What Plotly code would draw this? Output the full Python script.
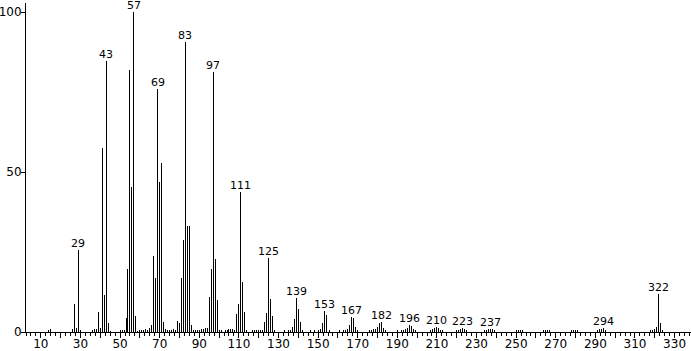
import plotly.graph_objects as go

# m/z values and relative intensities (%)
mz = [14, 15, 26, 27, 28, 29, 30,
      36, 37, 38, 39, 40, 41, 42, 43, 44, 45,
      50, 51, 52, 53, 54, 55, 56, 57, 58, 59,
      60, 61, 62, 63, 64, 65, 66, 67, 68, 69, 70, 71, 72, 73,
      74, 75, 76, 77, 78, 79, 80, 81, 82, 83, 84, 85, 86, 87, 88,
      89, 90, 91, 92, 93, 94, 95, 96, 97, 98, 99, 100, 101,
      103, 104, 105, 106, 107, 108, 109, 110, 111, 112, 113, 114,
      117, 118, 119, 120, 121, 122, 123, 124, 125, 126, 127, 128,
      133, 135, 136, 137, 138, 139, 140, 141, 142,
      146, 148, 150, 151, 152, 153, 154, 155, 156,
      161, 163, 164, 165, 166, 167, 168, 169, 170,
      176, 177, 178, 179, 180, 181, 182, 183, 184,
      190, 192, 193, 194, 195, 196, 197, 198, 199,
      206, 207, 208, 209, 210, 211, 212, 213,
      220, 221, 222, 223, 224, 225,
      234, 235, 236, 237, 238, 239,
      250, 251, 252, 253,
      264, 265, 266, 267,
      278, 279, 280, 281,
      291, 292, 293, 294, 295,
      318, 319, 320, 321, 322, 323, 324]
intensity = [0.7, 0.9, 1.0, 8.7, 1.2, 25.5, 0.6,
             0.5, 0.8, 0.9, 6.2, 1.2, 57.4, 11.5, 84.7, 2.9, 0.3,
             0.5, 0.7, 0.7, 4.3, 19.7, 82.0, 45.5, 100.0, 5.0, 0.3,
             0.4, 0.6, 0.6, 0.8, 0.4, 1.3, 2.2, 23.7, 16.9, 75.9, 46.8, 53.0, 3.1, 0.8,
             0.5, 0.6, 0.5, 0.9, 0.6, 3.5, 2.8, 16.9, 28.7, 90.7, 33.0, 33.0, 2.2, 0.6, 0.5,
             0.4, 0.4, 0.8, 0.8, 1.2, 1.2, 11.0, 19.8, 81.3, 22.8, 9.9, 0.7, 0.5,
             0.6, 0.5, 0.8, 0.8, 0.9, 0.7, 5.6, 8.7, 43.7, 15.7, 6.2, 0.5,
             0.5, 0.5, 0.5, 0.5, 0.5, 0.5, 3.2, 6.0, 23.0, 10.3, 5.1, 0.6,
             0.5, 0.5, 0.6, 1.5, 4.0, 10.6, 7.2, 3.1, 0.5,
             0.5, 0.5, 0.5, 1.0, 2.9, 6.5, 5.3, 1.7, 0.6,
             0.5, 0.5, 0.5, 1.0, 2.2, 4.8, 4.5, 1.7, 0.6,
             0.5, 0.6, 0.8, 1.0, 1.6, 2.8, 3.1, 1.4, 0.5,
             0.5, 0.5, 0.5, 0.8, 1.4, 2.2, 1.9, 0.8, 0.4,
             0.5, 0.6, 0.8, 1.2, 1.6, 1.2, 0.6, 0.4,
             0.4, 0.6, 0.8, 1.4, 0.8, 0.5,
             0.4, 0.7, 0.8, 1.0, 0.8, 0.5,
             0.5, 0.6, 0.6, 0.5,
             0.5, 0.6, 0.6, 0.5,
             0.5, 0.6, 0.6, 0.5,
             0.5, 0.8, 1.0, 1.3, 0.5,
             0.4, 0.6, 0.9, 1.6, 11.8, 2.9, 0.5]

# labelled peaks
label_mz = [29, 43, 57, 69, 83, 97, 111, 125, 139, 153, 167, 182, 196, 210, 223, 237, 294, 322]

# axis ticks
x_tickvals = list(range(10, 331, 10))
x_ticktext = [str(v) if (v // 10) % 2 == 1 else "" for v in x_tickvals]
y_tickvals = [0, 50, 100]

lookup = dict(zip(mz, intensity))

fig = go.Figure()
fig.add_trace(go.Bar(x=mz, y=intensity, width=0.002,
                     marker=dict(color="black", line=dict(width=0)),
                     hoverinfo="skip", showlegend=False))

for m in label_mz:
    fig.add_annotation(x=m, y=lookup[m], text=str(m), showarrow=False,
                       xanchor="center", yanchor="bottom", yshift=-2,
                       font=dict(family="DejaVu Sans", size=11, color="black"))

fig.update_layout(
    width=691, height=351,
    margin=dict(l=26, r=0, t=3, b=19, autoexpand=False),
    paper_bgcolor="white", plot_bgcolor="white",
    font=dict(family="DejaVu Sans", size=12, color="black"),
    showlegend=False, bargap=0,
)
fig.update_xaxes(range=[2.5, 338.3], showgrid=False, zeroline=False,
                 automargin=False,
                 showline=True, linecolor="black", linewidth=1,
                 tickmode="array", tickvals=x_tickvals, ticktext=x_ticktext,
                 ticks="outside", ticklen=5, tickcolor="black", tickwidth=1,
                 ticklabelstandoff=-4,
                 minor=dict(dtick=2.5, tick0=0, ticks="outside", ticklen=3,
                            tickcolor="black", tickwidth=1, showgrid=False),
                 tickfont=dict(size=12))
fig.update_yaxes(range=[0, 102.9], showgrid=False, zeroline=False,
                 automargin=False,
                 showline=True, linecolor="black", linewidth=1,
                 tickmode="array", tickvals=y_tickvals,
                 ticks="outside", ticklen=4, tickcolor="black", tickwidth=1,
                 ticklabelstandoff=-3,
                 tickfont=dict(size=12))

fig.write_html("out.html")
